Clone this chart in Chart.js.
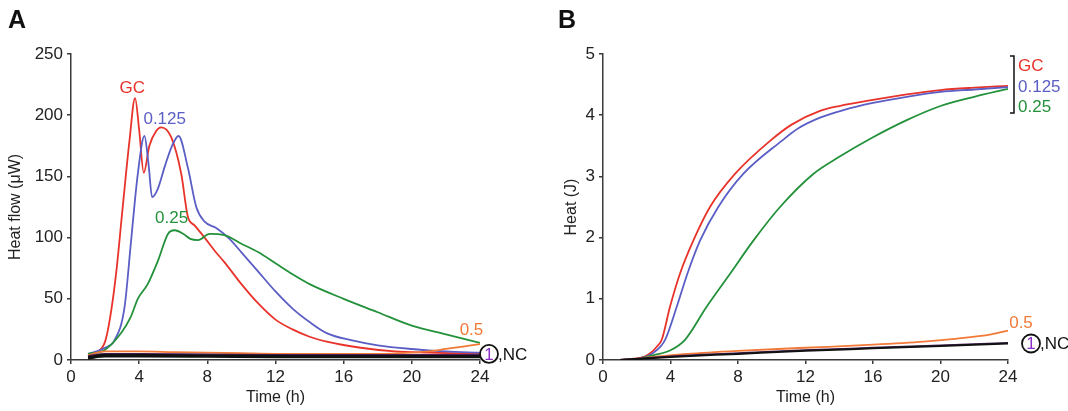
<!DOCTYPE html>
<html>
<head>
<meta charset="utf-8">
<script src="https://cdn.jsdelivr.net/npm/chart.js@4.4.1/dist/chart.umd.min.js"></script>
<style>
  html, body { margin: 0; padding: 0; background: #fff; }
  .panel { position: absolute; top: 0; height: 411px; }
  #panelA { left: 0; width: 540px; }
  #panelB { left: 534px; width: 534px; }
  .letter { position: absolute; top: 5px; font: bold 25px "Liberation Sans", Arial, sans-serif; color: #111; }
</style>
</head>
<body>
<div class="panel" id="panelA"><canvas id="chartA" width="540" height="411"></canvas></div>
<div class="panel" id="panelB"><canvas id="chartB" width="534" height="411"></canvas></div>
<div class="letter" style="left:8px">A</div>
<div class="letter" style="left:558px">B</div>
<script>
// heat flow (µW) vs time (h)
const tGC    = [1, 1.5, 2, 2.3, 2.65, 3.0, 3.43, 3.76, 4.0, 4.27, 4.6, 5.0, 5.29, 5.88, 6.47, 6.86, 7.25, 7.84, 8.5, 9, 10, 11, 12, 13, 14, 15, 17, 19, 21, 24];
const flowGC = [3, 6, 15, 35, 71, 120, 179, 214, 188, 153, 175, 187, 190, 182, 152, 117, 110, 100, 88, 80, 62, 46, 33, 25, 19, 15, 10, 7, 6, 5];

const t125    = [1, 1.5, 2, 2.55, 3.14, 3.53, 3.92, 4.31, 4.55, 4.76, 5.1, 5.5, 5.9, 6.31, 6.86, 7.35, 7.84, 8.5, 9.3, 10, 11, 12, 13, 14, 15, 16.5, 18, 20, 22, 24];
const flow125 = [5, 7, 10, 16, 43, 98, 152, 183, 160, 133, 140, 158, 174, 183, 157, 125, 113, 108, 99, 88, 72, 56, 42, 31, 22, 16, 12, 9, 7, 6];

const t25    = [1, 1.96, 2.94, 3.5, 3.92, 4.5, 5.1, 5.69, 6.08, 6.6, 7.0, 7.45, 8.14, 9, 10, 11, 12, 13, 14, 16, 18, 20, 22, 24];
const flow25 = [5, 8, 22, 35, 50, 62, 81, 103, 106, 103, 99, 98, 103, 102, 95, 88, 79, 70, 62, 50, 39, 28, 21, 14];

const t05    = [1, 2, 4, 6, 8, 10, 12, 14, 16, 18, 20, 21, 22, 23, 24];
const flow05 = [4, 7, 7, 6.5, 6, 5.5, 5, 5, 5, 5, 6, 7, 9, 11, 13];

const tLow     = [1, 2, 4, 8, 12, 16, 20, 24];
const flowOne  = [3, 5, 5, 4.5, 4, 4, 4, 4];
const flowNC   = [1.5, 3, 3, 2.8, 2.5, 2.5, 2.5, 2.5];
const flowNC2  = [2, 4, 4, 3.5, 3.2, 3, 3, 3];

// cumulative heat (J) vs time (h)
const tHeatGC = [1, 2, 2.5, 2.8, 3.2, 3.48, 3.97, 4.56, 5.35, 6.34, 7.82, 9.9, 11.2, 12.86, 14, 16, 18, 20, 22, 24];
const heatGC  = [0, 0.02, 0.06, 0.11, 0.22, 0.33, 0.87, 1.41, 1.95, 2.5, 3.04, 3.58, 3.85, 4.07, 4.15, 4.25, 4.34, 4.41, 4.45, 4.48];

const tHeat125 = [1, 2, 2.5, 3, 3.68, 4.37, 5.0, 5.75, 6.83, 8.31, 10.59, 11.6, 12.86, 14.2, 16, 18, 20, 22, 24];
const heat125  = [0, 0.02, 0.05, 0.12, 0.33, 0.87, 1.41, 1.95, 2.5, 3.04, 3.58, 3.79, 3.96, 4.08, 4.2, 4.3, 4.38, 4.42, 4.46];

const tHeat25 = [1, 2, 3, 4, 4.86, 6.14, 7.53, 8.91, 10.49, 12.46, 14, 16, 18, 20, 22, 24];
const heat25  = [0, 0.02, 0.08, 0.16, 0.33, 0.87, 1.41, 1.95, 2.5, 3.04, 3.32, 3.64, 3.92, 4.15, 4.3, 4.43];

const tHeat05 = [1, 3, 5, 8, 12, 16, 19, 21, 23, 24];
const heat05  = [0, 0.05, 0.1, 0.15, 0.2, 0.25, 0.3, 0.35, 0.42, 0.48];

const tHeatLow = [1, 4, 8, 12, 16, 20, 24];
const heatOne  = [0, 0.06, 0.11, 0.16, 0.2, 0.24, 0.28];
const heatNC   = [0, 0.05, 0.1, 0.15, 0.19, 0.23, 0.27];

const xTicks = [0, 4, 8, 12, 16, 20, 24];

const RED = "#e8332b", BLUE = "#5b5ec4", GREEN = "#23913a", ORANGE = "#f27937", PURPLE = "#4a1f5c", BLACK = "#111";
const FONT = "'Liberation Sans', Arial, sans-serif";

const pts = (xs, ys) => xs.map((x, i) => ({ x, y: ys[i] }));
const line = (xs, ys, color, w) => ({
  data: pts(xs, ys), borderColor: color, borderWidth: w || 1.8,
  pointRadius: 0, cubicInterpolationMode: "monotone", fill: false
});

// text labels placed next to the curves
const labels = {
  id: "labels",
  afterDraw(chart, args, opts) {
    const ctx = chart.ctx, xs = chart.scales.x, ys = chart.scales.y;
    ctx.save();
    ctx.font = "17px " + FONT;
    ctx.textBaseline = "middle";
    opts.items.forEach(it => {
      const px = xs.getPixelForValue(it.x) + (it.dx || 0);
      const py = ys.getPixelForValue(it.y);
      ctx.fillStyle = it.color;
      ctx.textAlign = it.align || "left";
      ctx.fillText(it.text, px, py);
    });
    if (opts.circle) {
      const c = opts.circle;
      const cx = xs.getPixelForValue(24) + c.dx, cy = ys.getPixelForValue(c.y);
      ctx.beginPath();
      ctx.arc(cx, cy, 9, 0, Math.PI * 2);
      ctx.strokeStyle = "#111"; ctx.lineWidth = 1.8; ctx.stroke();
      ctx.fillStyle = "#8b2fc9"; ctx.textAlign = "center";
      ctx.fillText("1", cx, cy + 1);
      ctx.fillStyle = "#111"; ctx.textAlign = "left";
      ctx.fillText(",NC", cx + 9, cy + 1);
    }
    if (opts.bracket) {
      const b = opts.bracket;
      const bx = xs.getPixelForValue(24) + b.dx;
      ctx.strokeStyle = "#111"; ctx.lineWidth = 1.5;
      ctx.beginPath();
      ctx.moveTo(bx - 4, b.top); ctx.lineTo(bx, b.top);
      ctx.lineTo(bx, b.bottom); ctx.lineTo(bx - 4, b.bottom);
      ctx.stroke();
    }
    ctx.restore();
  }
};

function axes(yMax, yStep, yTitle, yWidth) {
  const axisCol = "#3a3a3a";
  return {
    x: {
      type: "linear", min: 0, max: 24,
      afterBuildTicks: s => { s.ticks = xTicks.map(v => ({ value: v })); },
      border: { color: axisCol, width: 1.5 },
      grid: { drawOnChartArea: false, drawTicks: true, tickLength: 4, color: axisCol, lineWidth: 1.5 },
      ticks: { color: "#222", font: { family: FONT, size: 17 }, padding: 3, maxRotation: 0 },
      title: { display: true, text: "Time (h)", color: "#222", font: { family: FONT, size: 16 }, padding: { top: 0, bottom: 4 } },
      afterFit: s => { s.height = 51; }
    },
    y: {
      min: 0, max: yMax,
      border: { color: axisCol, width: 1.5 },
      grid: { drawOnChartArea: false, drawTicks: true, tickLength: 4, color: axisCol, lineWidth: 1.5 },
      ticks: { stepSize: yStep, color: "#222", font: { family: FONT, size: 17 }, padding: 4 },
      title: { display: true, text: yTitle, color: "#222", font: { family: FONT, size: 16 }, padding: { top: 6, bottom: 4 } },
      afterFit: s => { s.width = yWidth; }
    }
  };
}

const common = {
  responsive: false, animation: false, events: [],
  plugins: { legend: { display: false }, tooltip: { enabled: false } }
};

new Chart(document.getElementById("chartA"), {
  type: "line",
  data: { datasets: [
    line(tLow, flowNC, BLACK, 2.5),
    line(tLow, flowNC2, BLACK, 2.5),
    line(tLow, flowOne, PURPLE, 2),
    line(t05, flow05, ORANGE),
    line(t25, flow25, GREEN),
    line(t125, flow125, BLUE),
    line(tGC, flowGC, RED)
  ] },
  options: {
    ...common,
    layout: { padding: { left: 0, top: 54, right: 60, bottom: 0 } },
    scales: axes(250, 50, "Heat flow (\u03bcW)", 71),
    plugins: {
      ...common.plugins,
      labels: {
        items: [
          { text: "GC", x: 3.6, y: 222, color: RED, align: "center" },
          { text: "0.125", x: 4.25, y: 197, color: BLUE },
          { text: "0.25", x: 5.9, y: 116, color: GREEN, align: "center" },
          { text: "0.5", x: 23.5, y: 24, color: ORANGE, align: "center" }
        ],
        circle: { dx: 9, y: 5 }
      }
    }
  },
  plugins: [labels]
});

new Chart(document.getElementById("chartB"), {
  type: "line",
  data: { datasets: [
    line(tHeatLow, heatNC, BLACK, 2),
    line(tHeatLow, heatOne, PURPLE, 1.8),
    line(tHeat05, heat05, ORANGE),
    line(tHeat25, heat25, GREEN),
    line(tHeat125, heat125, BLUE),
    line(tHeatGC, heatGC, RED)
  ] },
  options: {
    ...common,
    layout: { padding: { left: 22, top: 54, right: 60, bottom: 0 } },
    scales: axes(5, 1, "Heat (J)", 47),
    plugins: {
      ...common.plugins,
      labels: {
        items: [
          { text: "GC", x: 24, y: 4.8, color: RED, dx: 10 },
          { text: "0.125", x: 24, y: 4.46, color: BLUE, dx: 10 },
          { text: "0.25", x: 24, y: 4.13, color: GREEN, dx: 10 },
          { text: "0.5", x: 24, y: 0.6, color: ORANGE, align: "center", dx: 13 }
        ],
        circle: { dx: 23, y: 0.27 },
        bracket: { dx: 6, top: 56, bottom: 113 }
      }
    }
  },
  plugins: [labels]
});
</script>
</body>
</html>
